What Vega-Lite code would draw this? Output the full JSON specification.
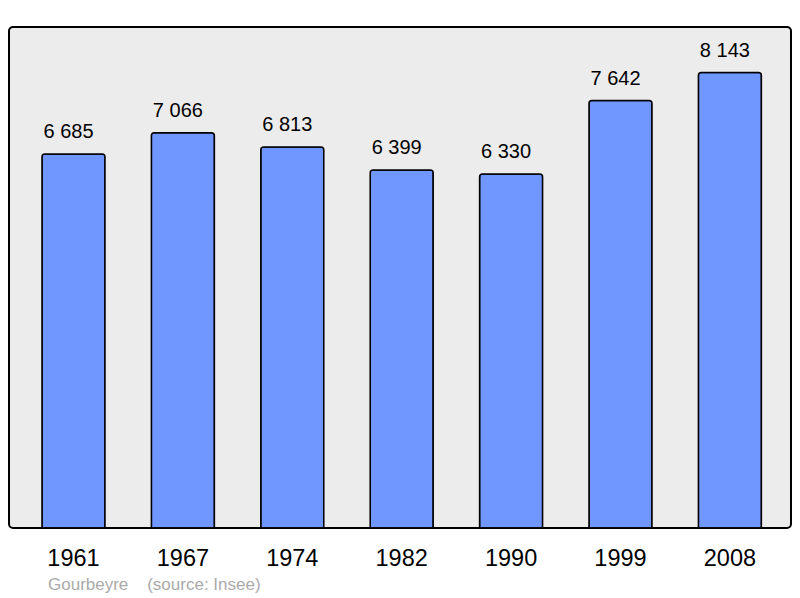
{
  "$schema": "https://vega.github.io/schema/vega-lite/v6.json",
  "width": 782,
  "height": 501,
  "autosize": {"type": "none"},
  "padding": {"left": 9, "top": 27, "right": 9, "bottom": 70},
  "background": "#ffffff",
  "config": {
    "font": "Liberation Sans",
    "view": {"fill": "#ececec", "stroke": "#000000", "strokeWidth": 2, "cornerRadius": 4}
  },
  "title": {
    "text": "Gourbeyre\u00a0\u00a0\u00a0\u00a0(source: Insee)",
    "orient": "bottom",
    "anchor": "start",
    "frame": "group",
    "baseline": "alphabetic",
    "dx": 39,
    "offset": 20,
    "fontSize": 17,
    "fontWeight": "normal",
    "color": "#aaaaaa",
    "font": "Liberation Sans"
  },
  "data": {
    "values": [
      {"year": "1961", "population": 6685, "label": "6 685"},
      {"year": "1967", "population": 7066, "label": "7 066"},
      {"year": "1974", "population": 6813, "label": "6 813"},
      {"year": "1982", "population": 6399, "label": "6 399"},
      {"year": "1990", "population": 6330, "label": "6 330"},
      {"year": "1999", "population": 7642, "label": "7 642"},
      {"year": "2008", "population": 8143, "label": "8 143"}
    ]
  },
  "encoding": {
    "x": {
      "field": "year",
      "type": "ordinal",
      "scale": {"paddingInner": 0.424, "paddingOuter": 0.286, "align": 0.527},
      "axis": {
        "title": null,
        "domain": false,
        "ticks": false,
        "labelAngle": 0,
        "labelFontSize": 23.5,
        "labelColor": "#000000",
        "labelFont": "Liberation Sans",
        "labelBaseline": "alphabetic",
        "labelPadding": 37
      }
    },
    "y": {
      "field": "population",
      "type": "quantitative",
      "scale": {"domain": [0, 8957], "nice": false},
      "axis": null
    }
  },
  "layer": [
    {
      "mark": {
        "type": "bar",
        "fill": "#7097ff",
        "stroke": "#000000",
        "strokeWidth": 1.5,
        "cornerRadiusTopLeft": 3,
        "cornerRadiusTopRight": 3
      }
    },
    {
      "mark": {
        "type": "text",
        "baseline": "alphabetic",
        "align": "center",
        "dx": -5,
        "dy": -16,
        "fontSize": 20,
        "color": "#000000",
        "font": "Liberation Sans"
      },
      "encoding": {"text": {"field": "label"}}
    }
  ]
}
